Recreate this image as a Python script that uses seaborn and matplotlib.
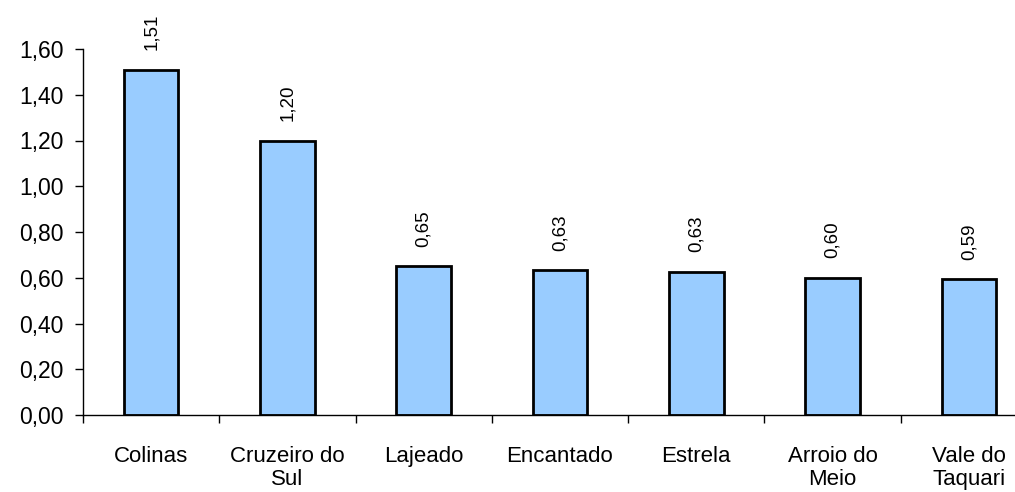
import matplotlib
matplotlib.use("Agg")
import matplotlib.pyplot as plt
import seaborn as sns
import pandas as pd
import numpy as np

categories = ["Colinas", "Cruzeiro do\nSul", "Lajeado", "Encantado", "Estrela", "Arroio do\nMeio", "Vale do\nTaquari"]
values = [1.51, 1.20, 0.65, 0.634, 0.626, 0.60, 0.594]
yticks = [0.0, 0.2, 0.4, 0.6, 0.8, 1.0, 1.2, 1.4, 1.6]

sns.set_theme(style="white")
plt.rcParams['font.family'] = ['Liberation Sans', 'DejaVu Sans']
plt.rcParams['text.color'] = 'black'
plt.rcParams['xtick.color'] = 'black'
plt.rcParams['ytick.color'] = 'black'

df = pd.DataFrame({"cat": categories, "val": values})

fig = plt.figure(figsize=(10.15, 4.92), dpi=100)
ax = fig.add_axes([83/1015, 1-415/492, (1037-83)/1015, (415-49)/492])

sns.barplot(data=df, x="cat", y="val", ax=ax, color="#99CCFF", width=0.4,
            edgecolor="black", linewidth=2, saturation=1)
for p in ax.patches:
    p.set_facecolor("#99CCFF")

ax.set_xlim(-0.5, len(categories) - 0.5)
ax.set_ylim(0, 1.6)
ax.set_yticks(yticks)
ax.set_yticklabels([f"{t:.2f}".replace(".", ",") for t in yticks], fontsize=16.5, color="black")
ax.set_xlabel("")
ax.set_ylabel("")

for spine in ["top", "right"]:
    ax.spines[spine].set_visible(False)
for spine in ["left", "bottom"]:
    ax.spines[spine].set_color("black")
    ax.spines[spine].set_linewidth(1)

ax.tick_params(axis="y", direction="out", length=6, width=1, color="black", left=True, pad=8)
# category labels centered, ticks at boundaries
ax.set_xticks(np.arange(len(categories)))
ax.set_xticklabels(categories, fontsize=16, linespacing=1.15, color="black")
ax.tick_params(axis="x", length=0, pad=22)
ax.set_xticks(np.arange(len(categories)) - 0.5, minor=True)
ax.tick_params(axis="x", which="minor", direction="out", length=6, width=1, color="black", bottom=True)

for i, v in enumerate(values):
    ax.text(i, v + 0.085, f"{v:.2f}".replace(".", ","), rotation=90, ha="center", va="bottom",
            fontsize=13.5, color="black")

fig.savefig("out.png", dpi=100)
